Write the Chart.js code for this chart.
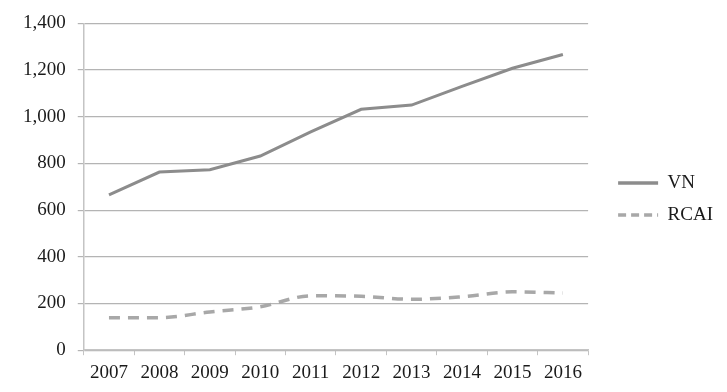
<!DOCTYPE html>
<html>
<head>
<meta charset="utf-8">
<script src="https://cdn.jsdelivr.net/npm/chart.js@4/dist/chart.umd.min.js"></script>
<style>
  html, body { margin: 0; padding: 0; background: #fff; }
  #wrap { width: 727px; height: 392px; position: relative; }
</style>
</head>
<body>
<div id="wrap"><canvas id="myChart"></canvas></div>
<script>
const years = ["2007", "2008", "2009", "2010", "2011", "2012", "2013", "2014", "2015", "2016"];
const vnValues = [665, 763, 773, 832, 935, 1032, 1050, 1130, 1208, 1267];
const rcaiValues = [139, 139, 164, 186, 233, 231, 218, 229, 250, 245];
const yTicks = [0, 200, 400, 600, 800, 1000, 1200, 1400];

const colors = {
  vn: "#8c8c8c",
  rcai: "#a8a8a8",
  grid: "#b4b4b4",
  axis: "#c4c4c4",
  text: "#1a1a1a",
};
const serif = "'Liberation Serif', 'DejaVu Serif', serif";

// extra room on the left of the legend, so the plot ends where the original does
const LEGEND_GAP = 15;
const LEGEND_SHIFT = { x: 17, y: -6 };
const legendGap = {
  id: "legendGap",
  afterInit(chart) {
    const lg = chart.legend;
    if (!lg) return;
    const fit = lg.fit;
    lg.fit = function () {
      fit.call(this);
      this.width += LEGEND_GAP;
    };
    const draw = lg.draw;
    lg.draw = function () {
      this.left += LEGEND_SHIFT.x;
      this.top += LEGEND_SHIFT.y;
      this.bottom += LEGEND_SHIFT.y;
      draw.call(this);
      this.left -= LEGEND_SHIFT.x;
      this.top -= LEGEND_SHIFT.y;
      this.bottom -= LEGEND_SHIFT.y;
    };
  },
};

const ctx = document.getElementById("myChart").getContext("2d");

const data = {
  labels: years,
  datasets: [
    {
      label: "VN",
      data: vnValues,
      borderColor: colors.vn,
      backgroundColor: colors.vn,
      borderWidth: 3,
      pointRadius: 0,
      tension: 0,
    },
    {
      label: "RCAI",
      data: rcaiValues,
      borderColor: colors.rcai,
      backgroundColor: colors.rcai,
      borderWidth: 3.5,
      borderDash: [11, 8],
      pointRadius: 0,
      cubicInterpolationMode: "monotone",
    },
  ],
};

const config = {
  type: "line",
  data: data,
  plugins: [legendGap],
  options: {
    responsive: true,
    maintainAspectRatio: false,
    animation: false,
    layout: { padding: { left: 11, top: 20, right: 6, bottom: 2 } },
    plugins: {
      legend: {
        position: "right",
        labels: {
          usePointStyle: true,
          pointStyle: "line",
          pointStyleWidth: 40,
          color: colors.text,
          font: { family: serif, size: 19 },
          padding: 13,
          generateLabels: (chart) => {
            const items = Chart.defaults.plugins.legend.labels.generateLabels(chart);
            items.forEach((item) => {
              const ds = chart.data.datasets[item.datasetIndex];
              item.lineDash = ds.borderDash ? [8, 5] : [];
              item.lineWidth = 3.5;
              item.strokeStyle = ds.borderColor;
            });
            return items;
          },
        },
      },
      tooltip: { enabled: false },
    },
    scales: {
      x: {
        offset: true,
        grid: {
          offset: true,
          drawOnChartArea: false,
          drawTicks: true,
          tickLength: 5,
          color: colors.axis,
        },
        border: { color: colors.axis, width: 1.5 },
        ticks: {
          color: colors.text,
          font: { family: serif, size: 19 },
          maxRotation: 0,
          autoSkip: false,
          padding: 6,
        },
      },
      y: {
        min: 0,
        max: 1400,
        afterBuildTicks: (axis) => {
          axis.ticks = yTicks.map((v) => ({ value: v }));
        },
        grid: {
          color: colors.grid,
          tickLength: 6,
          lineWidth: 1.2,
        },
        border: { color: colors.axis, width: 1.5 },
        ticks: {
          color: colors.text,
          font: { family: serif, size: 19 },
          padding: 12,
        },
      },
    },
  },
};

const myLineChart = new Chart(ctx, config);
</script>
</body>
</html>
